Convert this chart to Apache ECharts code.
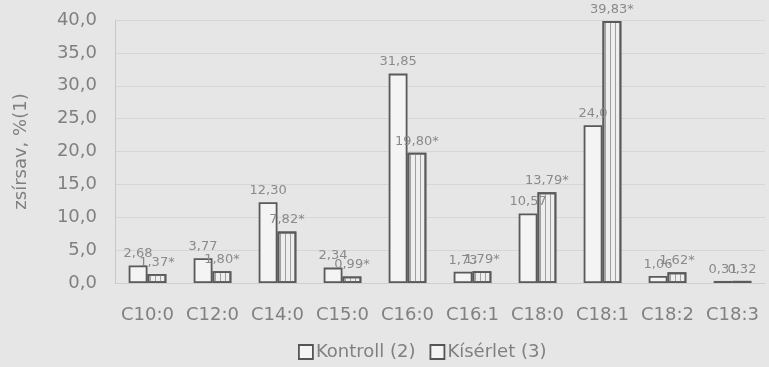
<!DOCTYPE html>
<html><head><meta charset="utf-8">
<script src="https://cdn.jsdelivr.net/npm/echarts@6/dist/echarts.min.js"></script>
<style>html,body{margin:0;padding:0;background:#e6e6e6;}#c{width:769px;height:367px;}</style>
</head><body><div id="c"></div>
<script>
const categories = ['C10:0','C12:0','C14:0','C15:0','C16:0','C16:1','C18:0','C18:1','C18:2','C18:3'];
const kontroll = [2.68, 3.77, 12.30, 2.34, 31.85, 1.73, 10.57, 24.0, 1.06, 0.31];
const kiserlet = [1.37, 1.80, 7.82, 0.99, 19.80, 1.79, 13.79, 39.83, 1.62, 0.32];
const kontrollLabels = ['2,68','3,77','12,30','2,34','31,85','1,73','10,57','24,0','1,06','0,31'];
const kiserletLabels = ['1,37*','1,80*','7,82*','0,99*','19,80*','1,79*','13,79*','39,83*','1,62*','0,32'];
const yTicks = [0,5,10,15,20,25,30,35,40];

const chart = echarts.init(document.getElementById('c'));
const txt = '#808080';
const F = 'DejaVu Sans';
chart.setOption({
  backgroundColor: '#e6e6e6',
  animation: false,
  grid: {left: 115, right: 4, top: 20, bottom: 84},
  legend: {
    bottom: 1, left: 293, itemWidth: 14, itemHeight: 14, itemGap: 14,
    textStyle: {color: txt, fontSize: 18, fontFamily: F, padding: [0, 0, 0, -2]},
    data: [
      {name: 'Kontroll (2)', icon: 'rect', itemStyle: {color: '#f4f4f4', borderColor: '#555', borderWidth: 1.8, decal: 'none'}},
      {name: 'Kísérlet (3)', icon: 'rect', itemStyle: {color: '#f4f4f4', borderColor: '#555', borderWidth: 1.8, decal: 'none'}}
    ]
  },
  xAxis: {
    type: 'category', data: categories,
    axisLine: {lineStyle: {color: '#cfcfcf'}},
    axisTick: {show: false},
    axisLabel: {color: txt, fontSize: 18, fontFamily: F, margin: 23, interval: 0}
  },
  yAxis: {
    type: 'value', min: 0, max: 40, interval: 5,
    name: 'zsírsav, %(1)', nameLocation: 'middle', nameGap: 85, nameRotate: 90,
    nameTextStyle: {color: txt, fontSize: 18, fontFamily: F},
    axisLine: {show: true, lineStyle: {color: '#c8c8c8'}},
    axisTick: {show: false},
    splitLine: {lineStyle: {color: '#d6d6d6'}},
    axisLabel: {color: txt, fontSize: 18, fontFamily: F, margin: 18,
      formatter: v => v.toFixed(1).replace('.', ',')}
  },
  series: [
    {
      name: 'Kontroll (2)', type: 'bar', data: kontroll, barGap: '0%', barCategoryGap: '42%',
      itemStyle: {color: '#f4f4f4', borderColor: '#5a5a5a', borderWidth: 1.8},
      label: {show: true, position: 'top', color: '#8a8a8a', fontSize: 13, fontFamily: F,
        distance: 5, formatter: p => kontrollLabels[p.dataIndex]}
    },
    {
      name: 'Kísérlet (3)', type: 'bar', data: kiserlet,
      itemStyle: {color: '#eeeeee', borderColor: '#5a5a5a', borderWidth: 1.8,
        decal: {symbol: 'rect', symbolSize: 1, dashArrayX: [[1, 4]], dashArrayY: [10, 0], color: '#a0a0a0', rotation: 0}},
      label: {show: true, position: 'top', color: '#8a8a8a', fontSize: 13, fontFamily: F,
        distance: 5, formatter: p => kiserletLabels[p.dataIndex]}
    }
  ]
});
</script></body></html>
